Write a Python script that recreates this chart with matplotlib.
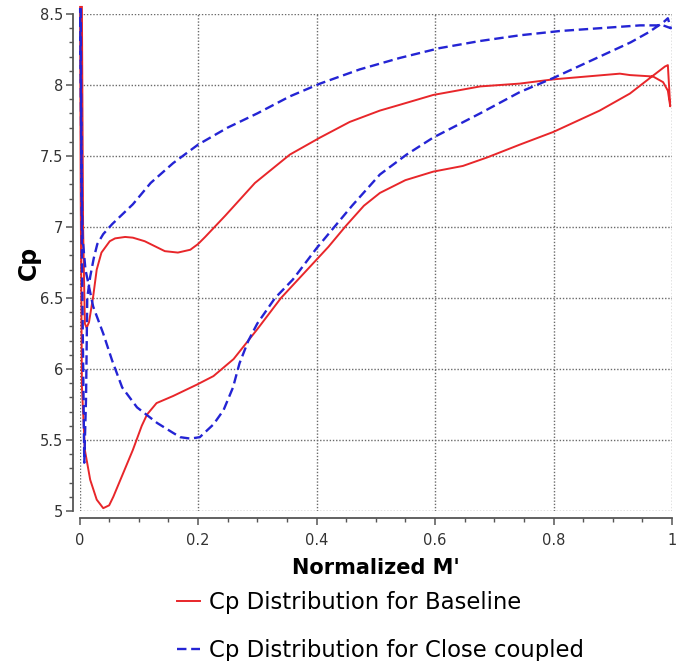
import matplotlib
matplotlib.use('Agg')
import matplotlib.pyplot as plt
from matplotlib.ticker import MultipleLocator, FormatStrFormatter
import numpy as np

# baseline section: suction side from LE to TE, then pressure side back to LE
base_low_x = [0.001, 0.002, 0.004, 0.009, 0.018, 0.029, 0.040, 0.050, 0.057, 0.074,
              0.090, 0.105, 0.114, 0.130, 0.158, 0.198, 0.226, 0.260, 0.300, 0.340,
              0.380, 0.420, 0.450, 0.480, 0.507, 0.550, 0.597, 0.647, 0.688, 0.743,
              0.800, 0.878, 0.929, 0.963, 0.988, 0.993, 0.997]
base_low_cp = [8.55, 7.20, 5.88, 5.43, 5.22, 5.08, 5.02, 5.04, 5.10, 5.27,
               5.43, 5.60, 5.68, 5.76, 5.81, 5.89, 5.95, 6.07, 6.28, 6.50,
               6.68, 6.86, 7.01, 7.15, 7.24, 7.33, 7.39, 7.43, 7.49, 7.58,
               7.67, 7.82, 7.94, 8.05, 8.13, 8.14, 7.85]
base_up_x = [0.997, 0.993, 0.985, 0.968, 0.929, 0.912, 0.800, 0.743, 0.676, 0.597,
             0.540, 0.507, 0.456, 0.406, 0.355, 0.296, 0.246, 0.212, 0.200, 0.187,
             0.166, 0.144, 0.110, 0.090, 0.077, 0.060, 0.051, 0.037, 0.029, 0.023,
             0.016, 0.012, 0.009, 0.006, 0.004]
base_up_cp = [7.85, 7.96, 8.02, 8.06, 8.07, 8.08, 8.04, 8.01, 7.99, 7.93,
              7.86, 7.82, 7.74, 7.63, 7.51, 7.31, 7.08, 6.93, 6.88, 6.84,
              6.82, 6.83, 6.90, 6.925, 6.93, 6.92, 6.90, 6.82, 6.70, 6.51,
              6.33, 6.29, 6.32, 7.00, 8.55]

# close coupled section
cc_up_x = [0.002, 0.004, 0.008, 0.011, 0.013, 0.018, 0.024, 0.030, 0.040, 0.055,
           0.090, 0.120, 0.158, 0.200, 0.250, 0.300, 0.355, 0.406, 0.473, 0.540,
           0.608, 0.676, 0.743, 0.810, 0.878, 0.946, 0.985, 0.998, 0.993]
cc_up_cp = [8.54, 6.80, 5.34, 5.80, 6.50, 6.65, 6.78, 6.88, 6.95, 7.02,
            7.16, 7.31, 7.45, 7.58, 7.70, 7.80, 7.92, 8.01, 8.11, 8.19,
            8.26, 8.31, 8.35, 8.38, 8.40, 8.42, 8.42, 8.40, 8.47]
cc_low_x = [0.985, 0.960, 0.930, 0.878, 0.800, 0.743, 0.676, 0.597, 0.552, 0.507,
            0.460, 0.430, 0.400, 0.360, 0.330, 0.300, 0.285, 0.270, 0.259, 0.243,
            0.226, 0.203, 0.187, 0.170, 0.158, 0.131, 0.097, 0.072, 0.055, 0.040,
            0.023, 0.010, 0.005, 0.003, 0.001]
cc_low_cp = [8.44, 8.37, 8.30, 8.20, 8.05, 7.95, 7.80, 7.63, 7.51, 7.37,
             7.15, 7.00, 6.85, 6.63, 6.50, 6.32, 6.20, 6.04, 5.87, 5.71,
             5.61, 5.52, 5.51, 5.52, 5.55, 5.62, 5.73, 5.87, 6.06, 6.25,
             6.44, 6.70, 6.93, 7.50, 8.54]

labels = ['Cp Distribution for Baseline', 'Cp Distribution for Close coupled']

fig = plt.figure(figsize=(6.94, 6.61), dpi=100)
ax = fig.add_axes([0.1146, 0.2269, 0.8537, 0.7519])

ax.plot(base_low_x + base_up_x, base_low_cp + base_up_cp, '-', color='#e8262a',
        lw=1.4, clip_on=False, label=labels[0])
ax.plot(cc_up_x + cc_low_x, cc_up_cp + cc_low_cp, '--', color='#2424d4',
        lw=1.7, dashes=(4, 2), clip_on=False, label=labels[1])

ax.set_xlim(0, 1)
ax.set_ylim(5, 8.5)
ax.xaxis.set_major_locator(MultipleLocator(0.2))
ax.xaxis.set_minor_locator(MultipleLocator(0.05))
ax.yaxis.set_major_locator(MultipleLocator(0.5))
ax.yaxis.set_minor_locator(MultipleLocator(0.1))
ax.xaxis.set_major_formatter(FormatStrFormatter('%g'))
ax.yaxis.set_major_formatter(FormatStrFormatter('%g'))

ax.grid(True, which='major', color='#6a6a6a', lw=1.0, ls=(0, (1, 1.3)))
for s in ['top', 'right']:
    ax.spines[s].set_visible(False)
for s in ['left', 'bottom']:
    ax.spines[s].set_position(('outward', 5))
    ax.spines[s].set_color('#555555')
    ax.spines[s].set_linewidth(1.3)
ax.spines['left'].set_bounds(5, 8.5)
ax.spines['bottom'].set_bounds(0, 1)

ax.tick_params(which='major', direction='out', length=5, width=1.1,
               color='#555555', labelsize=10.5, labelcolor='#333333', pad=2)
ax.tick_params(which='minor', direction='out', length=3, width=1.0, color='#555555')
ax.tick_params(axis='x', which='major', pad=6)

ax.set_xlabel("Normalized M'", fontsize=15, fontweight='bold')
ax.set_ylabel('Cp', fontsize=17, fontweight='bold')
ax.xaxis.set_label_coords(0.5, -0.094)
ax.yaxis.set_label_coords(-0.066, 0.5)

fig.legend(loc='upper left', bbox_to_anchor=(0.255, 0.106), frameon=False,
           fontsize=16.4, handlelength=1.0, handletextpad=0.4, labelspacing=1.1,
           borderpad=0, borderaxespad=0)

fig.savefig('out.png', dpi=100)
